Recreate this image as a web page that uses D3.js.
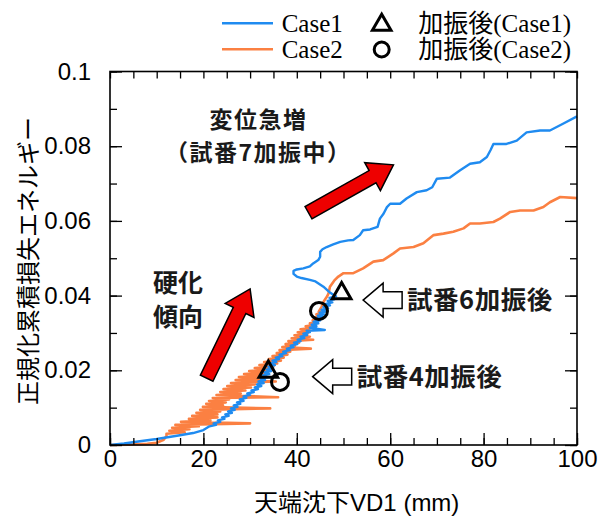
<!DOCTYPE html>
<html>
<head>
<meta charset="utf-8">
<script src="https://cdn.jsdelivr.net/npm/d3@7"></script>
<style>
  html, body { margin: 0; padding: 0; background: #fff; }
  svg { display: block; }
</style>
</head>
<body>
<svg id="chart" width="611" height="518"></svg>
<script>
// ---------------- data ----------------
const xTickLabels = [0, 20, 40, 60, 80, 100];
const yTickLabels = [0, 0.02, 0.04, 0.06, 0.08, 0.1];
const seriesNames = ["Case1", "Case2"];
const markerNames = ["加振後(Case1)", "加振後(Case2)"];

// Case1: [VD1 (mm), normalized cumulative dissipated energy]
const case1Points = [
  [0,0],[3,0.0004],[6.4,0.001],[10,0.0016],[14,0.0024],[17.8,0.0032],[20,0.004],
  [21.3,0.0050],[22.7,0.0054],[22.2,0.0058],[23.6,0.0062],[23.1,0.0066],[24.5,0.0070],
  [24.0,0.0074],[25.4,0.0078],[24.7,0.0082],[26.1,0.0086],[25.3,0.0090],[26.7,0.0094],
  [25.9,0.0098],[27.3,0.0102],[26.5,0.0106],[27.9,0.0110],[27.2,0.0114],[28.6,0.0118],
  [27.8,0.0122],[29.2,0.0126],[28.6,0.0130],[30.0,0.0134],[29.4,0.0138],[30.8,0.0142],
  [30.3,0.0146],[31.7,0.0150],[31.0,0.0154],[32.4,0.0158],[31.5,0.0162],[32.9,0.0166],
  [31.8,0.0170],[33.2,0.0174],[32.3,0.0178],[33.7,0.0182],[32.7,0.0186],[34.1,0.0190],
  [33.1,0.0194],[34.5,0.0198],[33.5,0.0202],[34.9,0.0206],[33.9,0.0210],[35.3,0.0214],
  [34.2,0.0218],[35.6,0.0222],[34.8,0.0226],[36.2,0.0230],[35.5,0.0234],[36.9,0.0238],
  [36.3,0.0242],[37.7,0.0246],[37.1,0.0250],[38.5,0.0254],[37.9,0.0258],[39.3,0.0262],
  [38.7,0.0266],[40.1,0.0270],[39.4,0.0274],[40.8,0.0278],[40.2,0.0282],[41.6,0.0286],
  [40.8,0.0290],[42.2,0.0294],[41.4,0.0298],[42.8,0.0302],[42.1,0.0306],[46.0,0.0308],
  [42.8,0.0314],[44.2,0.0318],[43.2,0.0322],[44.6,0.0326],[43.6,0.0330],[45.0,0.0334],
  [44.1,0.0338],[45.5,0.0342],[44.5,0.0346],[45.9,0.0350],[44.9,0.0354],[46.3,0.0358],
  [45.3,0.0362],[46.7,0.0366],[45.7,0.0370],[47.1,0.0374],[46.2,0.0378],[47.6,0.0382],
  [46.6,0.0386],[48.0,0.0390],[47.0,0.0394],[48.4,0.0398],
  [47.8,0.0402],[47.1,0.0408],[45.7,0.0424],[44.0,0.0438],[42.8,0.0442],[41.0,0.0447],
  [40.0,0.0451],[39.3,0.0458],[39.3,0.0466],[40.0,0.0470],[41.4,0.0473],[42.8,0.0478],
  [43.5,0.0486],[44.6,0.0495],[45.0,0.0504],[45.0,0.0517],[45.5,0.0524],[46.4,0.0530],
  [47.8,0.0537],[49.3,0.0544],[51.0,0.0548],[52.1,0.0549],[53.5,0.0562],[54.2,0.0575],
  [55.7,0.0577],[57.3,0.0584],[57.8,0.0606],[58.6,0.0620],[59.3,0.0637],[60.0,0.0646],
  [62.1,0.0646],[63.5,0.0660],[65.7,0.0677],[67.8,0.0682],[69.0,0.0690],[70.0,0.0713],
  [72.8,0.0716],[74.9,0.0735],[77.1,0.0753],[79.2,0.0757],[80.7,0.0771],[81.5,0.0790],
  [82.1,0.0806],[84.9,0.0806],[87.1,0.0815],[89.2,0.0837],[92.1,0.0842],[94.2,0.0842],
  [97.0,0.0860],[100,0.0880]
];

// Case2
const case2Points = [
  [0,0],[4,0.0001],[8,0.0003],[10,0.0006],[11.5,0.0014],[12.1,0.0024],
  [12.1,0.0030],[16.0,0.0034],[12.7,0.0038],[17.0,0.0042],[13.3,0.0046],[19.0,0.0050],
  [14.0,0.0054],[30.0,0.0058],[15.2,0.0062],[21.5,0.0066],[16.9,0.0070],[23.0,0.0074],
  [17.6,0.0078],[23.0,0.0082],[18.5,0.0086],[23.6,0.0090],[19.3,0.0094],[34.3,0.0098],
  [19.9,0.0102],[24.2,0.0106],[20.6,0.0110],[24.8,0.0114],[21.2,0.0118],[25.5,0.0122],
  [22.0,0.0126],[36.0,0.0128],[22.8,0.0134],[28.0,0.0138],[23.6,0.0142],[29.0,0.0146],
  [24.3,0.0150],[30.2,0.0154],[25.1,0.0158],[31.0,0.0162],[25.9,0.0166],[35.5,0.0170],
  [26.9,0.0174],[32.6,0.0178],[27.6,0.0182],[33.3,0.0186],[28.7,0.0190],[33.8,0.0194],
  [29.8,0.0198],[34.5,0.0202],[31.0,0.0206],[35.0,0.0210],[32.0,0.0214],[35.8,0.0218],
  [33.0,0.0222],[36.6,0.0226],[34.0,0.0230],[37.2,0.0234],[34.8,0.0238],[38.0,0.0242],
  [35.7,0.0246],[38.6,0.0250],[36.3,0.0254],[43.0,0.0258],[36.9,0.0262],[39.6,0.0266],
  [37.6,0.0270],[40.5,0.0274],[38.2,0.0278],[43.5,0.0282],[38.9,0.0286],[42.8,0.0290],
  [39.5,0.0294],[42.3,0.0298],[40.2,0.0302],[42.8,0.0306],[40.8,0.0310],[43.4,0.0314],
  [41.9,0.0318],[43.9,0.0322],[42.8,0.0326],[44.5,0.0330],[43.4,0.0334],[44.9,0.0338],
  [43.9,0.0342],[45.2,0.0346],[44.2,0.0350],[45.3,0.0354],[44.7,0.0357],
  [45.3,0.0370],[45.8,0.0385],[46.5,0.0398],[46.8,0.0406],[47.1,0.0424],[48.0,0.0440],
  [48.9,0.0451],[50.0,0.0460],[52.1,0.0460],[54.2,0.0473],[56.4,0.0491],[58.5,0.0495],
  [60.7,0.0513],[62.1,0.0526],[65.0,0.0530],[67.1,0.0540],[69.3,0.0562],[71.4,0.0566],
  [73.5,0.0571],[75.7,0.0580],[77.1,0.0593],[79.2,0.0593],[82.1,0.0597],[83.5,0.0606],
  [85.7,0.0624],[87.8,0.0628],[90.7,0.0628],[92.8,0.0637],[94.2,0.0650],[96.4,0.0664],
  [100,0.0661]
];

// points after excitation (試番4, 試番6)
const case1AfterShake = [[33.9,0.0196],[49.6,0.0406]];
const case2AfterShake = [[36.4,0.0169],[44.75,0.0359]];

// annotation anchors (data coordinates)
const redArrows = [
  { from: [20.7,0.0179], to: [30.0,0.0418] },
  { from: [42.5,0.0622], to: [60.7,0.0750] }
];
const openArrows = [
  { tip: [54.2,0.0388], label: "試番6加振後" },
  { tip: [43.4,0.0183], label: "試番4加振後" }
];

// ---------------- chart ----------------
const svg = d3.select("#chart");
const L = 110, R = 577, T = 71.5, B = 445;
const x = d3.scaleLinear().domain([0, 100]).range([L, R]);
const y = d3.scaleLinear().domain([0, 0.1]).range([B, T]);

const blue = "#1f8bf0", orange = "#fb8042";
const sansFont = "'Liberation Sans', Arial, 'Noto Sans CJK JP', sans-serif";
const cjkFont = "'Noto Sans CJK JP', sans-serif";
const serifFont = "'Liberation Serif', 'Times New Roman', 'Noto Sans CJK JP', serif";

const line = d3.line().x(d => x(d[0])).y(d => y(d[1]));

// series
svg.append("path").datum(case2Points).attr("d", line)
  .attr("fill", "none").attr("stroke", orange).attr("stroke-width", 2.6).attr("stroke-linejoin", "round");
svg.append("path").datum(case1Points).attr("d", line)
  .attr("fill", "none").attr("stroke", blue).attr("stroke-width", 2.4).attr("stroke-linejoin", "round");

// axes
const minorX = d3.range(0, 101, 5);
const minorY = d3.range(0, 0.1001, 0.01).map(v => +v.toFixed(3));
function styleAxis(g) {
  g.select(".domain").remove();
  g.selectAll(".tick line").attr("stroke", "#000").attr("stroke-width", 1.3);
}
svg.append("g").attr("transform", `translate(0,${B})`)
  .call(d3.axisBottom(x).tickValues(minorX).tickSize(-7).tickFormat(""))
  .call(styleAxis);
svg.append("g").attr("transform", `translate(0,${B})`)
  .call(d3.axisBottom(x).tickValues(xTickLabels).tickSize(-12).tickPadding(22).tickFormat(d3.format("d")))
  .call(styleAxis)
  .call(g => g.selectAll("text").attr("font-family", sansFont).attr("font-size", 24).attr("fill", "#000").attr("dy", "0"));
svg.append("g").attr("transform", `translate(0,${T})`)
  .call(d3.axisTop(x).tickValues(minorX).tickSize(-7).tickFormat(""))
  .call(styleAxis);
svg.append("g").attr("transform", `translate(${L},0)`)
  .call(d3.axisLeft(y).tickValues(minorY).tickSize(-7).tickFormat(""))
  .call(styleAxis);
svg.append("g").attr("transform", `translate(${L},0)`)
  .call(d3.axisLeft(y).tickValues(yTickLabels).tickSize(-12).tickPadding(19).tickFormat(d => d === 0 ? "0" : String(d)))
  .call(styleAxis)
  .call(g => g.selectAll("text").attr("font-family", sansFont).attr("font-size", 24).attr("fill", "#000"));
svg.append("g").attr("transform", `translate(${R},0)`)
  .call(d3.axisRight(y).tickValues(minorY).tickSize(-7).tickFormat(""))
  .call(styleAxis);
svg.append("g").attr("transform", `translate(${R},0)`)
  .call(d3.axisRight(y).tickValues(yTickLabels).tickSize(-12).tickFormat(""))
  .call(styleAxis);

// frame
svg.append("rect").attr("x", L).attr("y", T).attr("width", R - L).attr("height", B - T)
  .attr("fill", "none").attr("stroke", "#000").attr("stroke-width", 1.6);

// markers
const triPath = d3.symbol().type(d3.symbolTriangle).size(150);
svg.selectAll(".tri").data(case1AfterShake).join("path")
  .attr("d", triPath).attr("transform", d => `translate(${x(d[0])},${y(d[1])})`)
  .attr("fill", "none").attr("stroke", "#000").attr("stroke-width", 3);
svg.selectAll(".circ").data(case2AfterShake).join("circle")
  .attr("cx", d => x(d[0])).attr("cy", d => y(d[1])).attr("r", 8.5)
  .attr("fill", "none").attr("stroke", "#000").attr("stroke-width", 3);

// red arrows
function arrowPoly(x1, y1, x2, y2, sw, hw, hl) {
  const dx = x2 - x1, dy = y2 - y1, len = Math.hypot(dx, dy);
  const ux = dx / len, uy = dy / len, nx = -uy, ny = ux;
  const bx = x2 - ux * hl, by = y2 - uy * hl;
  return [
    [x1 + nx * sw, y1 + ny * sw], [bx + nx * sw, by + ny * sw], [bx + nx * hw, by + ny * hw],
    [x2, y2], [bx - nx * hw, by - ny * hw], [bx - nx * sw, by - ny * sw], [x1 - nx * sw, y1 - ny * sw]
  ];
}
svg.selectAll(".redArrow").data(redArrows).join("polygon")
  .attr("points", d => arrowPoly(x(d.from[0]), y(d.from[1]), x(d.to[0]), y(d.to[1]), 7, 16, 24).map(p => p.join(",")).join(" "))
  .attr("fill", "#ee0000").attr("stroke", "#000").attr("stroke-width", 1.5).attr("stroke-linejoin", "miter");

// open arrows + labels
openArrows.forEach(a => {
  const tx = x(a.tip[0]), ty = y(a.tip[1]);
  const pts = [[tx, ty], [tx + 20, ty - 17], [tx + 20, ty - 8.3], [tx + 39, ty - 8.3],
               [tx + 39, ty + 8.3], [tx + 20, ty + 8.3], [tx + 20, ty + 17]];
  svg.append("polygon").attr("points", pts.map(p => p.join(",")).join(" "))
    .attr("fill", "#fff").attr("stroke", "#000").attr("stroke-width", 1.5);
  svg.append("text").attr("x", tx + 44).attr("y", ty).attr("dy", "0.36em")
    .attr("font-family", cjkFont).attr("font-weight", 700).attr("font-size", 25.5)
    .attr("letter-spacing", "0.5px")
    .attr("fill", "#1a1a1a").text(a.label);
});

// other annotations
const annot = [
  { text: "変位急増", x: 258.5, y: 119.5, anchor: "middle", size: 23 },
  { text: "（試番7加振中）", x: 258.3, y: 152.5, anchor: "middle", size: 23 },
  { text: "硬化", x: 153, y: 283, anchor: "start", size: 25 },
  { text: "傾向", x: 153, y: 317, anchor: "start", size: 25 }
];
svg.selectAll(".annot").data(annot).join("text")
  .attr("x", d => d.x).attr("y", d => d.y).attr("dy", "0.36em")
  .attr("text-anchor", d => d.anchor)
  .attr("font-family", cjkFont).attr("font-weight", 700).attr("font-size", d => d.size)
  .attr("letter-spacing", d => d.size === 23 ? "1.5px" : "0px")
  .attr("fill", "#1a1a1a").text(d => d.text);

// axis titles
svg.append("text").attr("x", 356.7).attr("y", 502).attr("dy", "0.36em").attr("text-anchor", "middle")
  .attr("font-family", sansFont).attr("font-size", 24).attr("fill", "#000").text("天端沈下VD1 (mm)");
svg.append("text").attr("transform", "translate(28,261) rotate(-90)").attr("dy", "0.36em")
  .attr("text-anchor", "middle").attr("font-family", cjkFont).attr("font-size", 24).attr("fill", "#000")
  .text("正規化累積損失エネルギー");

// legend
const legendColors = [blue, orange];
const lg = svg.append("g");
seriesNames.forEach((name, i) => {
  const ly = 23.3 + i * 26;
  lg.append("line").attr("x1", 222).attr("x2", 273).attr("y1", ly).attr("y2", ly)
    .attr("stroke", legendColors[i]).attr("stroke-width", 2.4);
  lg.append("text").attr("x", 281.7).attr("y", ly).attr("dy", "0.36em")
    .attr("font-family", serifFont).attr("font-size", 25).attr("fill", "#000").text(name);
  lg.append("text").attr("x", 418.3).attr("y", ly).attr("dy", "0.36em")
    .attr("font-family", serifFont).attr("font-size", 25).attr("fill", "#000").text(markerNames[i]);
});
lg.append("path").attr("d", triPath).attr("transform", "translate(381.7,25)")
  .attr("fill", "none").attr("stroke", "#000").attr("stroke-width", 3);
lg.append("circle").attr("cx", 381.7).attr("cy", 49.5).attr("r", 7.5)
  .attr("fill", "none").attr("stroke", "#000").attr("stroke-width", 3);
</script>
</body>
</html>
